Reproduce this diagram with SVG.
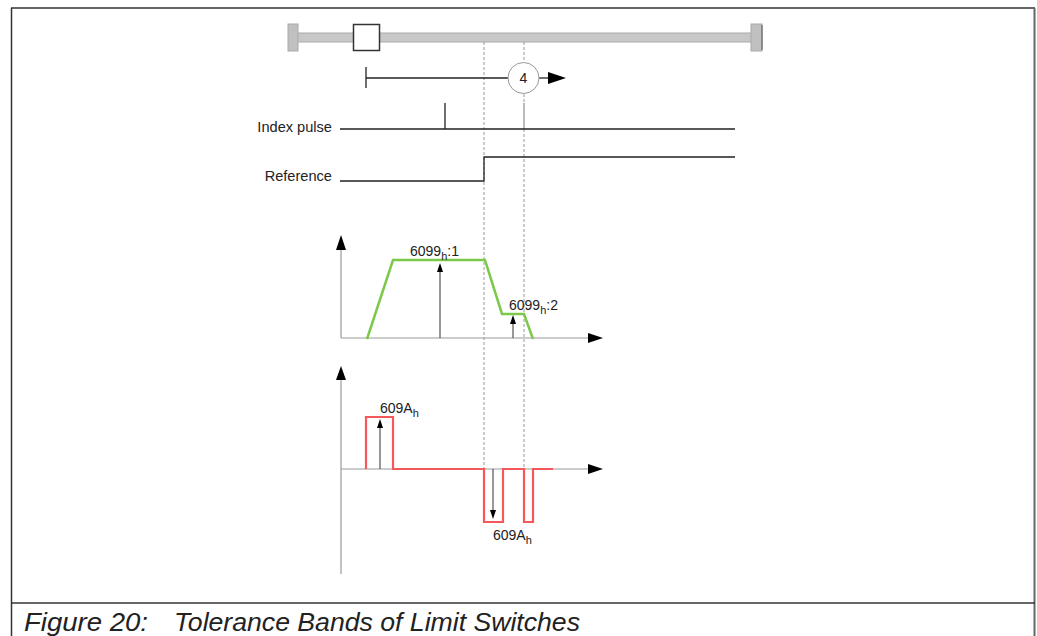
<svg xmlns="http://www.w3.org/2000/svg" width="1037" height="636" viewBox="0 0 1037 636">
<style>
.lbl{font-family:"Liberation Sans",Arial,sans-serif;font-size:14.6px;fill:#222}
.val{font-family:"Liberation Sans",Arial,sans-serif;font-size:14px;fill:#222}
.sub{font-size:11px}
.cap{font-family:"Liberation Sans",Arial,sans-serif;font-size:26px;font-style:italic;fill:#222}
.dash{stroke:#999;stroke-width:1;stroke-dasharray:3,2;fill:none}
.axis{stroke:#999;stroke-width:1.2;fill:none}
.sig{stroke:#222;stroke-width:1.3;fill:none}
.thin{stroke:#333;stroke-width:1;fill:none}
.green{stroke:#7cc84a;stroke-width:2.5;fill:none;stroke-linejoin:miter}
.red{stroke:#f4585a;stroke-width:2.2;fill:none}
</style>
<rect width="1037" height="636" fill="#fff"/>
<g id="frame" fill="none" stroke="#333" stroke-width="1.5">
<line x1="11" y1="8" x2="1035" y2="8"/>
<line x1="11.5" y1="8" x2="11.5" y2="636"/>
<line x1="1034.5" y1="8" x2="1034.5" y2="636" stroke="#666" stroke-width="2"/>
<line x1="11" y1="603" x2="1035" y2="603"/>
</g>
<g id="rail">
<rect x="296" y="33" width="457" height="9" fill="#c8c8c8" stroke="#aaa" stroke-width="1"/>
<rect x="288" y="24" width="10" height="27" fill="#c0c0c0" stroke="#aaa" stroke-width="1"/>
<rect x="751" y="24" width="11" height="27" fill="#c0c0c0" stroke="#aaa" stroke-width="1"/>
<line x1="762" y1="25" x2="762" y2="50" stroke="#555" stroke-width="1"/>
<rect x="353.5" y="24.5" width="26" height="26" fill="#fff" stroke="#333" stroke-width="1.5"/>
</g>
<g id="guides">
<line class="dash" x1="484" y1="42" x2="484" y2="469"/>
<line class="dash" x1="524" y1="42" x2="524" y2="62"/>
<line class="dash" x1="524" y1="94" x2="524" y2="103"/>
<line x1="524" y1="103" x2="524" y2="129" stroke="#777" stroke-width="1"/>
<line class="dash" x1="524" y1="129" x2="524" y2="469"/>
</g>
<g id="move">
<line class="sig" x1="366" y1="67" x2="366" y2="88"/>
<line class="sig" x1="366" y1="78" x2="508" y2="78" stroke-width="1.1"/>
<line class="sig" x1="539" y1="78" x2="550" y2="78"/>
<polygon points="548,72 566,78 548,84" fill="#000"/>
</g>
<g id="step4">
<circle cx="523.5" cy="78" r="15.5" fill="#fff" stroke="#999" stroke-width="1"/>
<text class="val" x="523.5" y="83" text-anchor="middle">4</text>
</g>
<g id="index-pulse">
<text class="lbl" x="332" y="132" text-anchor="end">Index pulse</text>
<polyline class="sig" points="340,129 445,129 445,103 445,129 735,129"/>
</g>
<g id="reference">
<text class="lbl" x="332" y="181" text-anchor="end">Reference</text>
<polyline class="sig" points="340,181 484,181 484,157 735,157"/>
</g>
<g id="velocity-chart">
<line class="axis" x1="341" y1="248" x2="341" y2="338"/>
<polygon points="336,250 341,235 346,250" fill="#000"/>
<line class="axis" x1="341" y1="338" x2="590" y2="338"/>
<polygon points="588,333 603,338 588,343" fill="#000"/>
<polyline class="green" points="367,339 393,260 485,260 502,314 524,314 533,339"/>
<line class="thin" x1="440" y1="338" x2="440" y2="270"/>
<polygon points="437,272 440,263 443,272" fill="#000"/>
<text class="val" x="410" y="256">6099<tspan class="sub" dy="4">h</tspan><tspan dy="-4">:1</tspan></text>
<line class="thin" x1="513" y1="338" x2="513" y2="322"/>
<polygon points="510,324 513,315 516,324" fill="#000"/>
<text class="val" x="509" y="310">6099<tspan class="sub" dy="4">h</tspan><tspan dy="-4">:2</tspan></text>
</g>
<g id="accel-chart">
<line class="axis" x1="341" y1="378" x2="341" y2="574"/>
<polygon points="336,380 341,366 346,380" fill="#000"/>
<line class="axis" x1="341" y1="469" x2="590" y2="469"/>
<polygon points="588,464 603,469 588,474" fill="#000"/>
<polyline class="red" points="366,469 366,417 393,417 393,469 484,469 484,522 503,522 503,469 524,469 524,522 533,522 533,469 553,469"/>
<line class="thin" x1="380" y1="469" x2="380" y2="426"/>
<polygon points="377,428 380,419 383,428" fill="#000"/>
<text class="val" x="380" y="413">609A<tspan class="sub" dy="4">h</tspan></text>
<line class="thin" x1="493" y1="469" x2="493" y2="512"/>
<polygon points="490,510 493,519 496,510" fill="#000"/>
<text class="val" x="493" y="540">609A<tspan class="sub" dy="4">h</tspan></text>
</g>
<g id="caption">
<text class="cap" x="24" y="631" textLength="124" lengthAdjust="spacingAndGlyphs">Figure 20:</text>
<text class="cap" x="174" y="631" textLength="406" lengthAdjust="spacingAndGlyphs">Tolerance Bands of Limit Switches</text>
</g>
</svg>
